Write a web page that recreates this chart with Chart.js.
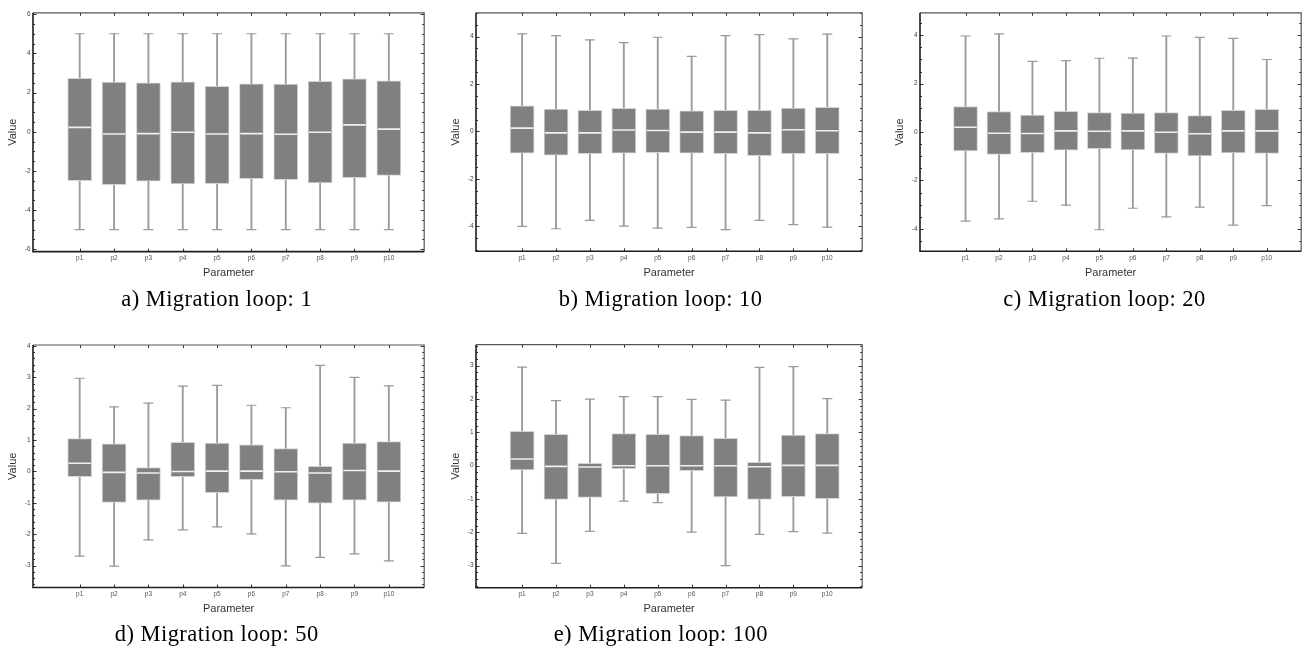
<!DOCTYPE html>
<html>
<head>
<meta charset="utf-8">
<script src="https://cdn.jsdelivr.net/npm/chart.js@4"></script>
<style>
  html, body { margin: 0; padding: 0; background: #fff; }
  body { position: relative; width: 1314px; height: 651px; overflow: hidden; }
  canvas { position: absolute; }
  .caption {
    position: absolute; width: 320px; text-align: center;
    font-family: "Liberation Serif", serif; font-size: 22.5px; line-height: 22px;
    letter-spacing: 0.45px; color: #000; white-space: nowrap;
  }
</style>
</head>
<body>
<script>
// Parameters on the x axis
const params = ['p1', 'p2', 'p3', 'p4', 'p5', 'p6', 'p7', 'p8', 'p9', 'p10'];

// Migration loop 1
const loop1Min    = [-5.0, -5.0, -5.0, -5.0, -5.0, -5.0, -5.0, -5.0, -5.0, -5.0];
const loop1Q1     = [-2.50, -2.70, -2.53, -2.67, -2.65, -2.40, -2.45, -2.62, -2.35, -2.23];
const loop1Median = [0.22, -0.12, -0.10, -0.03, -0.12, -0.10, -0.13, -0.03, 0.35, 0.13];
const loop1Q3     = [2.73, 2.53, 2.50, 2.55, 2.32, 2.45, 2.43, 2.57, 2.70, 2.60];
const loop1Max    = [5.0, 5.0, 5.0, 5.0, 5.0, 5.0, 5.0, 5.0, 5.0, 5.0];

// Migration loop 10
const loop10Min    = [-4.00, -4.10, -3.75, -3.99, -4.07, -4.04, -4.14, -3.75, -3.93, -4.03];
const loop10Q1     = [-0.91, -1.00, -0.94, -0.91, -0.89, -0.91, -0.94, -1.02, -0.94, -0.94];
const loop10Median = [0.14, -0.06, -0.06, 0.06, 0.04, -0.03, -0.03, -0.06, 0.07, 0.03];
const loop10Q3     = [1.08, 0.94, 0.89, 0.97, 0.94, 0.87, 0.89, 0.89, 0.98, 1.02];
const loop10Max    = [4.11, 4.04, 3.86, 3.74, 3.97, 3.16, 4.04, 4.08, 3.90, 4.10];

// Migration loop 20
const loop20Min    = [-3.68, -3.59, -2.86, -3.02, -4.04, -3.15, -3.51, -3.10, -3.85, -3.04];
const loop20Q1     = [-0.78, -0.92, -0.85, -0.75, -0.69, -0.74, -0.88, -0.99, -0.86, -0.88];
const loop20Median = [0.20, -0.05, -0.06, 0.05, 0.03, 0.05, -0.01, -0.07, 0.05, 0.05];
const loop20Q3     = [1.05, 0.85, 0.70, 0.86, 0.81, 0.78, 0.80, 0.68, 0.90, 0.94];
const loop20Max    = [3.97, 4.06, 2.92, 2.95, 3.05, 3.06, 3.97, 3.91, 3.87, 3.00];

// Migration loop 50
const loop50Min    = [-2.70, -3.02, -2.18, -1.86, -1.77, -1.99, -3.01, -2.74, -2.63, -2.85];
const loop50Q1     = [-0.17, -0.99, -0.92, -0.17, -0.68, -0.26, -0.92, -1.01, -0.92, -0.98];
const loop50Median = [0.26, -0.03, -0.05, 0.00, 0.01, 0.01, -0.01, -0.05, 0.03, 0.01];
const loop50Q3     = [1.05, 0.88, 0.12, 0.93, 0.90, 0.85, 0.73, 0.16, 0.90, 0.95];
const loop50Max    = [2.97, 2.06, 2.18, 2.72, 2.74, 2.11, 2.03, 3.38, 3.00, 2.73];

// Migration loop 100
const loop100Min    = [-2.03, -2.93, -1.97, -1.06, -1.11, -1.99, -3.00, -2.06, -1.98, -2.02];
const loop100Q1     = [-0.13, -1.01, -0.95, -0.09, -0.84, -0.15, -0.94, -1.01, -0.93, -0.99];
const loop100Median = [0.20, -0.02, -0.04, 0.00, 0.00, 0.00, 0.00, -0.03, 0.01, 0.01];
const loop100Q3     = [1.03, 0.94, 0.07, 0.96, 0.94, 0.90, 0.82, 0.10, 0.92, 0.96];
const loop100Max    = [2.96, 1.95, 2.00, 2.07, 2.07, 1.99, 1.97, 2.95, 2.97, 2.01];

// Panel layout (page pixels) and axis settings
const panels = [
  { caption: 'a) Migration loop: 1',
    stats: [loop1Min, loop1Q1, loop1Median, loop1Q3, loop1Max],
    yMin: -6.12, yMax: 6.07, yStep: 2, yMinor: 0.5,
    canvas: { x: 0, y: 0, w: 437, h: 290 }, frame: { l: 33, t: 9.3, r: 425.7, b: 251.6 },
    xTitleY: 273.3, capX: 216.7, capBase: 306 },
  { caption: 'b) Migration loop: 10',
    stats: [loop10Min, loop10Q1, loop10Median, loop10Q3, loop10Max],
    yMin: -5.05, yMax: 5.0, yStep: 2, yMinor: 0.5,
    canvas: { x: 440, y: 0, w: 435, h: 290 }, frame: { l: 476, t: 9.3, r: 869, b: 251.3 },
    xTitleY: 273.3, capX: 660.6, capBase: 306 },
  { caption: 'c) Migration loop: 20',
    stats: [loop20Min, loop20Q1, loop20Median, loop20Q3, loop20Max],
    yMin: -4.93, yMax: 4.93, yStep: 2, yMinor: 0.5,
    canvas: { x: 875, y: 0, w: 439, h: 290 }, frame: { l: 920, t: 9.3, r: 1312.5, b: 251.3 },
    xTitleY: 273.3, capX: 1104.5, capBase: 306 },
  { caption: 'd) Migration loop: 50',
    stats: [loop50Min, loop50Q1, loop50Median, loop50Q3, loop50Max],
    yMin: -3.70, yMax: 4.03, yStep: 1, yMinor: 0.2,
    canvas: { x: 0, y: 330, w: 437, h: 292 }, frame: { l: 33, t: 345, r: 425.7, b: 587.5 },
    xTitleY: 609, capX: 216.7, capBase: 641 },
  { caption: 'e) Migration loop: 100',
    stats: [loop100Min, loop100Q1, loop100Median, loop100Q3, loop100Max],
    yMin: -3.66, yMax: 3.63, yStep: 1, yMinor: 0.2,
    canvas: { x: 440, y: 330, w: 435, h: 292 }, frame: { l: 476, t: 344.7, r: 869, b: 587.7 },
    xTitleY: 609, capX: 660.8, capBase: 641 }
];

// Mathematica-style frame: box around the plot with inward ticks on all sides
const framePlugin = {
  id: 'frame',
  afterDraw(chart, args, opts) {
    const { ctx, chartArea: { left, top, right, bottom }, scales: { x, y } } = chart;
    ctx.save();
    // y ticks, major and minor, on left and right
    ctx.strokeStyle = '#333';
    ctx.lineWidth = 1;
    const step = opts.minor;
    const start = Math.ceil(y.min / step - 1e-9);
    const end = Math.floor(y.max / step + 1e-9);
    for (let k = start; k <= end; k++) {
      const v = k * step;
      const isMajor = Math.abs(v / opts.major - Math.round(v / opts.major)) < 1e-6;
      const len = isMajor ? 3.5 : 2;
      const py = Math.round(y.getPixelForValue(v)) + 0.5;
      ctx.beginPath();
      ctx.moveTo(left, py); ctx.lineTo(left + len, py);
      ctx.moveTo(right, py); ctx.lineTo(right - len, py);
      ctx.stroke();
    }
    // x ticks at the categories, top and bottom
    x.ticks.forEach(t => {
      const px = Math.round(x.getPixelForValue(t.value)) + 0.5;
      ctx.beginPath();
      ctx.moveTo(px, bottom); ctx.lineTo(px, bottom - 3);
      ctx.moveTo(px, top); ctx.lineTo(px, top + 3);
      ctx.stroke();
    });
    // frame
    ctx.strokeStyle = '#555';
    ctx.lineWidth = 1.2;
    ctx.beginPath();
    ctx.moveTo(left, top); ctx.lineTo(right, top); ctx.lineTo(right, bottom);
    ctx.stroke();
    ctx.strokeStyle = '#1e1e1e';
    ctx.lineWidth = 1.6;
    ctx.beginPath();
    ctx.moveTo(left, top); ctx.lineTo(left, bottom); ctx.lineTo(right, bottom);
    ctx.stroke();
    ctx.restore();
  }
};

function buildPanel(p) {
  const cv = document.createElement('canvas');
  cv.width = p.canvas.w;
  cv.height = p.canvas.h;
  cv.style.left = p.canvas.x + 'px';
  cv.style.top = p.canvas.y + 'px';
  cv.style.width = p.canvas.w + 'px';
  cv.style.height = p.canvas.h + 'px';
  document.body.appendChild(cv);

  const [mins, q1s, meds, q3s, maxs] = p.stats;
  const xs = params.map((_, i) => i + 1);

  const yAxisWidth = p.frame.l - p.canvas.x;
  const xAxisHeight = p.canvas.y + p.canvas.h - p.frame.b;
  const titleSize = 11;
  const titleLH = titleSize * 1.2;
  const yTitlePad = (p.frame.l - 20 - p.canvas.x) - titleLH / 2;
  const xTitlePad = (p.canvas.y + p.canvas.h) - p.xTitleY - titleLH / 2;

  const whiskerColor = '#9a9a9a';

  new Chart(cv, {
    type: 'bar',
    data: {
      datasets: [
        { type: 'line', label: 'Median', order: 0, showLine: false,
          data: xs.map((x, i) => ({ x, y: meds[i] })),
          pointStyle: 'line', pointRadius: 11.2, pointHoverRadius: 11.2,
          borderColor: '#f0f0f0', borderWidth: 1.6 },
        { type: 'bar', label: 'IQR', order: 1, grouped: false,
          data: xs.map((x, i) => ({ x, y: [q1s[i], q3s[i]] })),
          backgroundColor: '#808080', borderColor: '#d4d4d4', borderWidth: 1,
          borderSkipped: false, barThickness: 24 },
        { type: 'line', label: 'Max', order: 2, showLine: false,
          data: xs.map((x, i) => ({ x, y: maxs[i] })),
          pointStyle: 'line', pointRadius: 5, pointHoverRadius: 5,
          borderColor: whiskerColor, borderWidth: 1.2 },
        { type: 'line', label: 'Min', order: 2, showLine: false,
          data: xs.map((x, i) => ({ x, y: mins[i] })),
          pointStyle: 'line', pointRadius: 5, pointHoverRadius: 5,
          borderColor: whiskerColor, borderWidth: 1.2 },
        { type: 'bar', label: 'Range', order: 3, grouped: false,
          data: xs.map((x, i) => ({ x, y: [mins[i], maxs[i]] })),
          backgroundColor: whiskerColor, borderWidth: 0, barThickness: 1.2 }
      ]
    },
    options: {
      responsive: false,
      animation: false,
      events: [],
      layout: {
        padding: {
          left: 0,
          top: p.frame.t - p.canvas.y,
          right: p.canvas.x + p.canvas.w - p.frame.r,
          bottom: 0
        }
      },
      plugins: {
        legend: { display: false },
        tooltip: { enabled: false },
        frame: { major: p.yStep, minor: p.yMinor }
      },
      scales: {
        x: {
          type: 'linear', min: -0.36, max: 11.03, offset: false,
          grid: { display: false, drawTicks: false },
          border: { display: false },
          afterBuildTicks: s => { s.ticks = xs.map(v => ({ value: v })); },
          afterFit: s => { s.height = xAxisHeight; },
          ticks: {
            autoSkip: false, maxRotation: 0, padding: 2.6, color: '#555',
            font: { family: 'Liberation Sans', size: 6.5 },
            callback: v => params[v - 1]
          },
          title: {
            display: true, text: 'Parameter', color: '#333',
            font: { family: 'Liberation Sans', size: titleSize },
            padding: { top: 0, bottom: xTitlePad }
          }
        },
        y: {
          type: 'linear', min: p.yMin, max: p.yMax,
          grid: { display: false, drawTicks: false },
          border: { display: false },
          afterBuildTicks: s => {
            const t = [];
            for (let k = Math.ceil(p.yMin / p.yStep); k * p.yStep <= p.yMax + 1e-9; k++) {
              t.push({ value: k * p.yStep });
            }
            s.ticks = t;
          },
          afterFit: s => { s.width = yAxisWidth; },
          ticks: {
            padding: 2.5, color: '#444',
            font: { family: 'Liberation Sans', size: 6.5 }
          },
          title: {
            display: true, text: 'Value', color: '#333',
            font: { family: 'Liberation Sans', size: titleSize },
            padding: { top: yTitlePad, bottom: 0 }
          }
        }
      }
    },
    plugins: [framePlugin]
  });

  const cap = document.createElement('div');
  cap.className = 'caption';
  cap.textContent = p.caption;
  cap.style.left = (p.capX - 160) + 'px';
  cap.style.top = (p.capBase - 18.4) + 'px';
  document.body.appendChild(cap);
}

panels.forEach(buildPanel);
</script>
</body>
</html>
